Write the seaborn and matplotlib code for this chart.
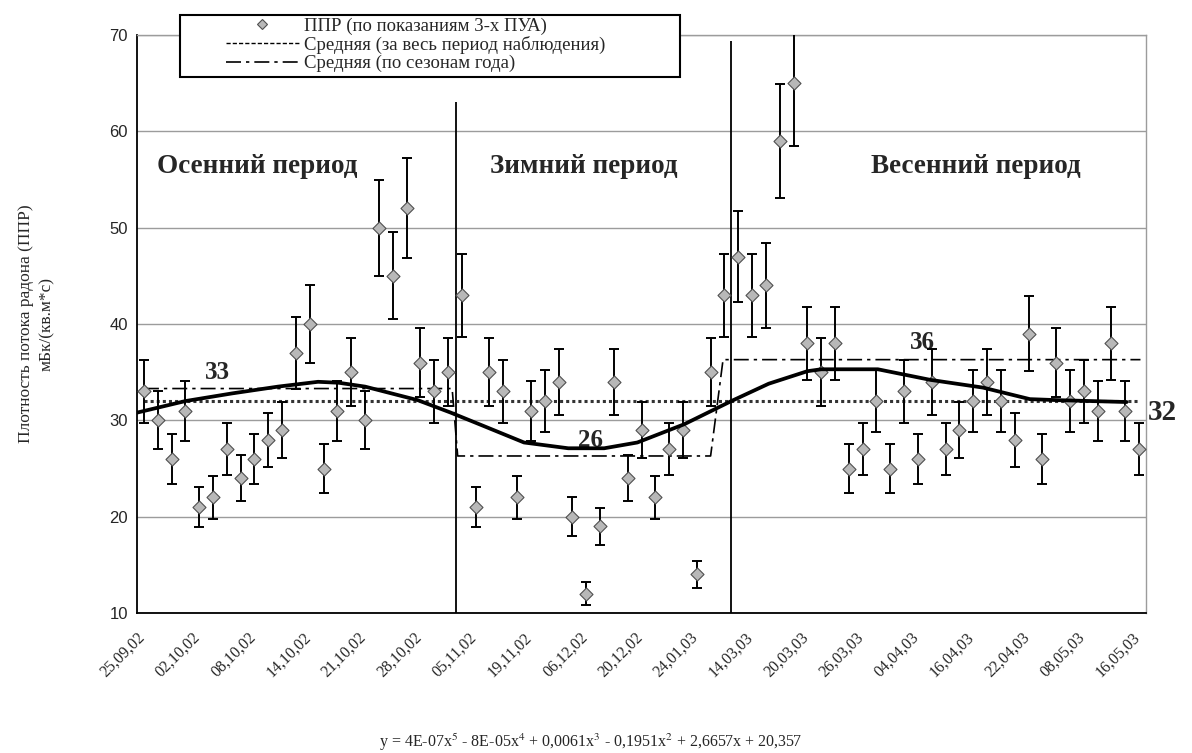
import numpy as np
import matplotlib
matplotlib.use('Agg')
import matplotlib.pyplot as plt
import seaborn as sns
from matplotlib.lines import Line2D
from matplotlib.patches import Rectangle

# ---------------- data ----------------
ppr = [33, 30, 26, 31, 21, 22, 27, 24, 26, 28, 29, 37, 40, 25, 31, 35, 30, 50, 45, 52, 36, 33, 35,
       43, 21, 35, 33, 22, 31, 32, 34, 20, 12, 19, 34, 24, 29, 22, 27, 29, 14, 35, 43,
       47, 43, 44, 59, 65, 38, 35, 38, 25, 27, 32, 25, 33, 26, 34, 27, 29, 32, 34, 32, 28,
       39, 26, 36, 32, 33, 31, 38, 31, 27]
err_pct = 10  # percentage error bars

date_labels = ['25,09,02', '02,10,02', '08,10,02', '14,10,02', '21,10,02', '28,10,02',
               '05,11,02', '19,11,02', '06,12,02', '20,12,02', '24,01,03', '14,03,03',
               '20,03,03', '26,03,03', '04,04,03', '16,04,03', '22,04,03', '08,05,03',
               '16,05,03']
label_every = 4

# polynomial trend line (category index, value)
trend_x = [-0.5, 3.0, 6.4, 9.7, 12.6, 14.1, 16.0, 19.8, 22.2, 24.6, 27.5, 30.7, 33.3,
           35.7, 39.1, 42.5, 45.2, 48.0, 49.0, 53.1, 56.9, 60.7, 64.1, 66.0, 71.1]
trend_y = [30.8, 32.0, 32.8, 33.5, 34.0, 33.9, 33.5, 32.1, 30.8, 29.4, 27.7, 27.1, 27.1,
           27.7, 29.6, 32.0, 33.8, 35.1, 35.3, 35.3, 34.2, 33.4, 32.2, 32.1, 31.9]

overall_mean = 32.0
overall_span = [0.0, 72.1]

season_names = ['Осенний период', 'Зимний период', 'Весенний период']
season_mean = [33.3, 26.3, 36.3]
season_start = [0.0, 22.7, 41.9]
season_end = [22.3, 41.0, 72.1]
season_mean_labels = ['33', '26', '36']

boundary_x = [22.6, 42.45]
boundary_top = [63.0, 69.4]

equation = (r'y = 4E-07x$^{5}$ - 8E-05x$^{4}$ + 0,0061x$^{3}$ - 0,1951x$^{2}$'
            r' + 2,6657x + 20,357')

# ---------------- style ----------------
sns.set_style('white')
plt.rcParams['font.family'] = ['Liberation Serif', 'DejaVu Serif']
plt.rcParams['mathtext.fontset'] = 'stix'

W, H = 1192, 753
fig = plt.figure(figsize=(W / 100, H / 100), dpi=100)
ax = fig.add_axes([137 / W, 1 - 613 / H, (1146 - 137) / W, (613 - 35) / H])

x = np.arange(len(ppr))
vals = np.array(ppr, dtype=float)
err = vals * err_pct / 100.0

ax.set_xlim(-0.5, len(ppr) - 0.5)
ax.set_ylim(10, 70)
ax.set_yticks(range(10, 71, 10))
ax.yaxis.grid(True, color='#9c9c9c', lw=1.0)
ax.xaxis.grid(False)
ax.set_axisbelow(True)

# season boundaries
ax.vlines(boundary_x, 10, boundary_top, colors='black', lw=1.3, zorder=2)

# overall mean
sns.lineplot(x=overall_span, y=[overall_mean] * 2, ax=ax, color='#333333', lw=2.2,
             linestyle=(0, (1, 1)), zorder=3, estimator=None)

# seasonal means as a step line
step_x, step_y = [], []
for s, e, m in zip(season_start, season_end, season_mean):
    step_x += [s, e]
    step_y += [m, m]
ax.plot(step_x, step_y, color='black', lw=1.2, linestyle=(0, (9, 3, 2, 3)), zorder=3)

# error bars + points
ax.errorbar(x, vals, yerr=err, fmt='none', ecolor='black', elinewidth=1.4,
            capsize=3.5, capthick=1.4, zorder=4)
sns.scatterplot(x=x, y=vals, ax=ax, marker='D', s=44, color='#b8b8b8',
                edgecolor='#505050', linewidth=0.8, zorder=5, legend=False)

# trend line
sns.lineplot(x=trend_x, y=trend_y, ax=ax, color='black', lw=2.7, sort=False,
             estimator=None, zorder=6)

# text annotations
season_label_x = [8.2, 31.85, 60.2]
for name, lx in zip(season_names, season_label_x):
    ax.text(lx, 56.4, name, ha='center', va='center', fontsize=19.5,
            fontweight='bold', zorder=7)
mean_label_pos = [(5.35, 35.0), (32.3, 27.9), (56.3, 38.1)]
for lab, (lx, ly) in zip(season_mean_labels, mean_label_pos):
    ax.text(lx, ly, lab, ha='center', va='center', fontsize=18, fontweight='bold',
            zorder=3)
ax.text(73.65, 30.85, f'{overall_mean:.0f}', ha='center', va='center', fontsize=21,
        fontweight='bold', clip_on=False)

# axes / ticks
tick_pos = np.arange(0, len(ppr), label_every) - 0.5
ax.set_xticks(tick_pos)
ax.set_xticklabels(date_labels, rotation=45, ha='right', va='top',
                   rotation_mode='anchor', fontsize=11.5)
ax.tick_params(axis='x', direction='out', length=5, width=1, color='black', pad=7)
ax.tick_params(axis='y', direction='out', length=5, width=1, color='black', pad=1.5)
for lbl in ax.get_yticklabels():
    lbl.set_fontfamily(['Liberation Sans', 'DejaVu Sans'])
    lbl.set_fontsize(12)

for side in ['left', 'bottom']:
    ax.spines[side].set_color('black')
    ax.spines[side].set_linewidth(1.3)
for side in ['top', 'right']:
    ax.spines[side].set_color('#9c9c9c')
    ax.spines[side].set_linewidth(1.0)

ax.set_ylabel('Плотность потока радона (ППР)\nмБк/(кв.м*с)', fontsize=12.5,
              linespacing=1.45)
ax.yaxis.set_label_coords(-0.081, 0.5)
ax.set_xlabel('')

fig.text(590 / W, 1 - 742 / H, equation, ha='center', va='center', fontsize=11.5)

# legend (frame drawn as a separate box, as in the original)
fig.patches.append(Rectangle((180 / W, 1 - 77 / H), 500 / W, 62 / H,
                             transform=fig.transFigure, fill=True, facecolor='white',
                             edgecolor='black', lw=1.5, zorder=10))
handles = [Line2D([], [], marker='D', ls='none', markersize=5, markerfacecolor='#b8b8b8',
                  markeredgecolor='#505050', markeredgewidth=0.8),
           Line2D([], [], color='black', lw=1.0, linestyle=(0, (3, 1.5))),
           Line2D([], [], color='black', lw=1.2, linestyle=(0, (9, 3, 2, 3)))]
labels = ['ППР (по показаниям 3-х ПУА)', 'Средняя (за весь период наблюдения)',
          'Средняя (по сезонам года)']
leg = fig.legend(handles, labels, loc='upper left',
                 bbox_to_anchor=(222 / W, 1 - 14 / H),
                 fontsize=13.5, frameon=False, borderpad=0.2, labelspacing=0.05,
                 handlelength=3.9, handletextpad=0.25, borderaxespad=0)
leg.set_zorder(11)

fig.savefig('out.png', dpi=100)
